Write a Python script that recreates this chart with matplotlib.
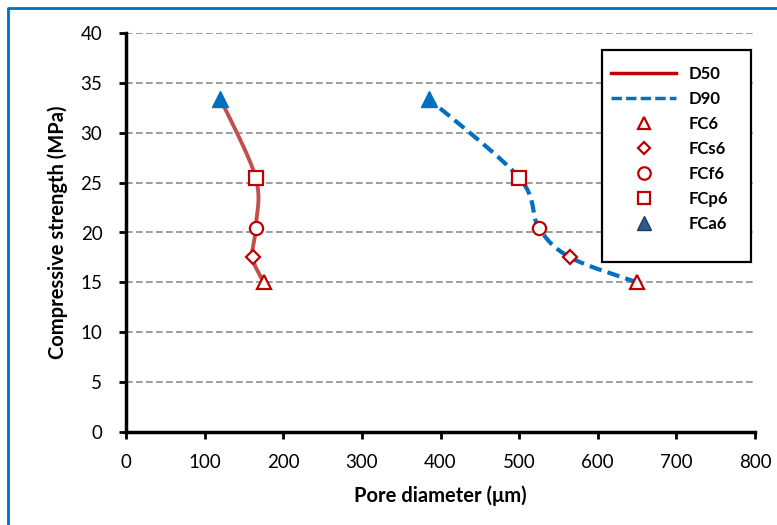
import numpy as np
import matplotlib
matplotlib.use("Agg")
import matplotlib.pyplot as plt
from matplotlib.lines import Line2D
from matplotlib.patches import Rectangle

plt.rcParams['font.family'] = ['Lato', 'DejaVu Sans']

# ---- data ----
mixes = ["FC6", "FCs6", "FCf6", "FCp6", "FCa6"]
strength = [15.0, 17.5, 20.5, 25.5, 33.4]
d50 = [175, 161, 165, 165, 120]
d90 = [650, 565, 525, 500, 385]
x_ticks = [0, 100, 200, 300, 400, 500, 600, 700, 800]
y_ticks = [0, 5, 10, 15, 20, 25, 30, 35, 40]

FIG_W, FIG_H, DPI = 7.77, 5.25, 100
fig = plt.figure(figsize=(FIG_W, FIG_H), dpi=DPI)
L, R, B, T = 126/777, 755/777, (525-432)/525, (525-33)/525
ax = fig.add_axes([L, B, R-L, T-B])
ax.set_xlim(0, 800)
ax.set_ylim(0, 40)

# scale factors (pixels per data unit) for screen-space smoothing like Excel
sx = (755-126)/800.0
sy = (432-33)/40.0

def smooth(xs, ys, n=40):
    P = np.column_stack([np.asarray(xs, float)*sx, np.asarray(ys, float)*sy])
    pts = [P[0]]
    for i in range(len(P)-1):
        p0 = P[i-1] if i > 0 else P[i]
        p1 = P[i]
        p2 = P[i+1]
        p3 = P[i+2] if i+2 < len(P) else P[i+1]
        c1 = p1 + (p2 - p0)/6.0
        c2 = p2 - (p3 - p1)/6.0
        t = np.linspace(0, 1, n)[1:, None]
        seg = ((1-t)**3)*p1 + 3*((1-t)**2)*t*c1 + 3*(1-t)*t**2*c2 + t**3*p2
        pts.extend(seg)
    pts = np.array(pts)
    return pts[:, 0]/sx, pts[:, 1]/sy

ax.set_axisbelow(True)
ax.yaxis.grid(True, linestyle=(0, (4, 2)), color='#8c8c8c', linewidth=1.2)

xs, ys = smooth(d50, strength)
ax.plot(xs, ys, color='#C0504D', linewidth=2.8, solid_capstyle='round', zorder=2)
xs, ys = smooth(d90, strength)
ax.plot(xs, ys, color='#0070C0', linewidth=3.0, linestyle=(0, (3, 1.5)), zorder=2)

red = '#C00000'
blue = '#0070C0'
mstyle = {"FC6": ('^', 10), "FCs6": ('D', 6.8), "FCf6": ('o', 9.5), "FCp6": ('s', 9.5), "FCa6": ('^', 11)}
for series in (d50, d90):
    for name, xv, yv in zip(mixes, series, strength):
        m, ms = mstyle[name]
        if name == "FCa6":
            ax.plot([xv], [yv], marker=m, markersize=ms, color=blue, markeredgecolor=blue,
                    linestyle='none', zorder=3)
        else:
            ax.plot([xv], [yv], marker=m, markersize=ms, markerfacecolor='white',
                    markeredgecolor=red, markeredgewidth=1.6, linestyle='none', zorder=3)

ax.set_xticks(x_ticks)
ax.set_yticks(y_ticks)
ax.tick_params(axis='both', direction='out', length=5, width=2, labelsize=13.5, color='black')
ax.tick_params(axis='y', pad=12)
ax.tick_params(axis='x', pad=11)
for s in ['top', 'right']:
    ax.spines[s].set_visible(False)
for s in ['left', 'bottom']:
    ax.spines[s].set_linewidth(2.5)

ax.set_xlabel("Pore diameter (μm)", fontsize=14.5, fontweight='bold', labelpad=10)
ax.set_ylabel("Compressive strength (MPa)", fontsize=14.5, fontweight='bold', labelpad=9)

handles = [
    Line2D([], [], color='#C00000', linewidth=2.5),
    Line2D([], [], color='#0070C0', linewidth=2.5, linestyle=(0, (3, 1.2))),
    Line2D([], [], marker='^', markersize=9, markerfacecolor='white', markeredgecolor=red, markeredgewidth=1.6, linestyle='none'),
    Line2D([], [], marker='D', markersize=6.5, markerfacecolor='white', markeredgecolor=red, markeredgewidth=1.6, linestyle='none'),
    Line2D([], [], marker='o', markersize=9, markerfacecolor='white', markeredgecolor=red, markeredgewidth=1.6, linestyle='none'),
    Line2D([], [], marker='s', markersize=9, markerfacecolor='white', markeredgecolor=red, markeredgewidth=1.6, linestyle='none'),
    Line2D([], [], marker='^', markersize=10, markerfacecolor='#2E5A8C', markeredgecolor='#203864', markeredgewidth=1.0, linestyle='none'),
]
labels = ["D50", "D90"] + mixes

rect = Rectangle((602/777, (525-262)/525), (751-602)/777, (262-50)/525, transform=fig.transFigure,
                 facecolor='white', edgecolor='black', linewidth=1.6, zorder=4)
fig.patches.append(rect)
fig.legend(handles, labels, loc='upper left', bbox_to_anchor=(611/777, (525-66)/525),
           bbox_transform=fig.transFigure, frameon=False, prop={'weight': 'bold', 'size': 12},
           handlelength=3.9, handletextpad=0.75, labelspacing=0.54, borderpad=0, borderaxespad=0)

# outer blue border (left and top only visible)
fig.add_artist(Line2D([8/777, 8/777, 1.0], [0.0, (525-8)/525, (525-8)/525], transform=fig.transFigure,
                      color='#0070C0', linewidth=2.0))

fig.savefig("out.png", dpi=DPI)
